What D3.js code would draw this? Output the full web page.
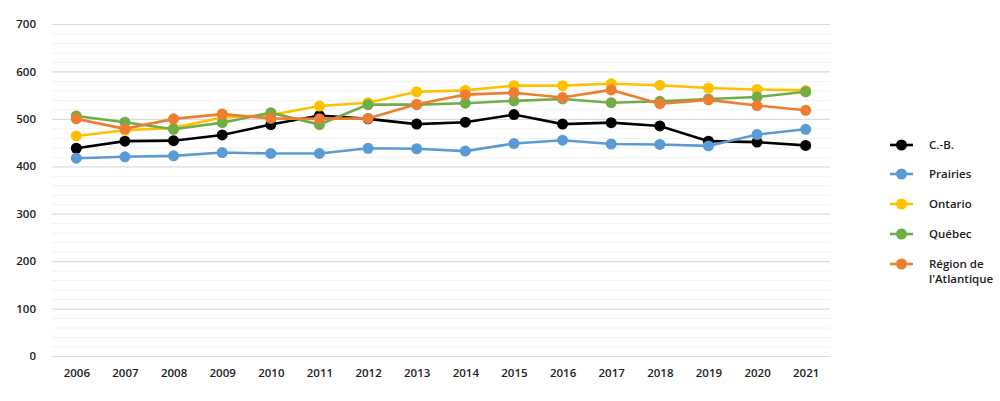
<!DOCTYPE html>
<html>
<head>
<meta charset="utf-8">
<script src="https://cdn.jsdelivr.net/npm/d3@7"></script>
<style>
	body { margin: 0; background: #fff; }
	text { font-family: "Open Sans", sans-serif; fill: #222; }
</style>
</head>
<body>
<div id="chart"></div>
<script>
const years = ['2006','2007','2008','2009','2010','2011','2012','2013','2014','2015','2016','2017','2018','2019','2020','2021'];
const yTicks = [0, 100, 200, 300, 400, 500, 600, 700];
const seriesNames = ['C.-B.', 'Prairies', 'Ontario', 'Québec', "Région de l'Atlantique"];
const seriesColors = ['#000000', '#5B9BD5', '#FFC000', '#70AD47', '#ED7D31'];
const cb = [438, 453, 454, 466, 488, 507, 500, 489, 493, 509, 489, 492, 485, 453, 451, 444];
const prairies = [417, 420, 422, 429, 427, 427, 438, 437, 432, 448, 455, 447, 446, 443, 467, 478];
const ontario = [464, 476, 481, 503, 508, 527, 534, 557, 560, 570, 570, 574, 571, 565, 562, 560];
const quebec = [506, 493, 478, 492, 513, 488, 530, 530, 533, 538, 542, 534, 537, 542, 546, 557];
const atlantique = [500, 479, 500, 510, 501, 500, 501, 531, 551, 555, 545, 561, 532, 540, 528, 518];

const seriesValues = [cb, prairies, ontario, quebec, atlantique];

const config = {
	width: 1000,
	height: 401,
	margin: {top: 24, right: 170, bottom: 45, left: 52}
};
const innerW = config.width - config.margin.left - config.margin.right;
const innerH = config.height - config.margin.top - config.margin.bottom;

const svg = d3.select('#chart').append('svg')
	.attr('width', config.width)
	.attr('height', config.height);

const g = svg.append('g')
	.attr('transform', `translate(${config.margin.left},${config.margin.top})`);

//Scales
const xScale = d3.scalePoint()
	.domain(years)
	.range([0, innerW])
	.padding(0.5);

const yScale = d3.scaleLinear()
	.domain([0, 700])
	.range([innerH, 0]);

//Minor gridlines every 20, major every 100
g.append('g')
	.selectAll('line')
	.data(d3.range(0, 701, 20).filter(v => v % 100 !== 0))
	.join('line')
	.attr('x1', 0)
	.attr('x2', innerW)
	.attr('y1', d => yScale(d) + 0.5)
	.attr('y2', d => yScale(d) + 0.5)
	.attr('stroke', '#f2f2f2')
	.attr('stroke-width', 1);

const yAxis = d3.axisLeft(yScale)
	.tickValues(yTicks)
	.tickSize(-innerW)
	.tickPadding(16);

const yAxisG = g.append('g')
	.attr('class', 'y-axis')
	.call(yAxis);
yAxisG.select('.domain').remove();
yAxisG.selectAll('.tick line').attr('stroke', '#dcdcdc').attr('stroke-width', 1.2);
yAxisG.selectAll('.tick text')
	.style('font-size', '11.5px')
	.style('font-weight', '600')
	.attr('fill', '#222');

const xAxis = d3.axisBottom(xScale)
	.tickSize(0)
	.tickPadding(13);

const xAxisG = g.append('g')
	.attr('class', 'x-axis')
	.attr('transform', `translate(0,${innerH})`)
	.call(xAxis);
xAxisG.select('.domain').remove();
xAxisG.selectAll('.tick text')
	.style('font-size', '11.5px')
	.style('font-weight', '600')
	.attr('fill', '#222');

//Lines and markers
const line = d3.line()
	.x((d, i) => xScale(years[i]))
	.y(d => yScale(d));

seriesValues.forEach((vals, k) => {
	const sg = g.append('g');
	sg.append('path')
		.datum(vals)
		.attr('fill', 'none')
		.attr('stroke', seriesColors[k])
		.attr('stroke-width', 2.6)
		.attr('d', line);
	sg.selectAll('circle')
		.data(vals)
		.join('circle')
		.attr('cx', (d, i) => xScale(years[i]))
		.attr('cy', d => yScale(d))
		.attr('r', 5.5)
		.attr('fill', seriesColors[k]);
});

//Legend
const legendRows = [145, 174, 204, 234, 264];
const legend = svg.append('g');
seriesNames.forEach((name, k) => {
	const row = legend.append('g')
		.attr('transform', `translate(890,${legendRows[k]})`);
	row.append('line')
		.attr('x1', 0)
		.attr('x2', 23)
		.attr('stroke', seriesColors[k])
		.attr('stroke-width', 2.6);
	row.append('circle')
		.attr('cx', 11.5)
		.attr('r', 5.5)
		.attr('fill', seriesColors[k]);
	const t = row.append('text')
		.attr('x', 39)
		.attr('y', 4)
		.style('font-size', '11.5px')
		.style('font-weight', '600');
	if (k === 4) {
		t.append('tspan').attr('x', 39).text('Région de');
		t.append('tspan').attr('x', 39).attr('dy', 15).text("l'Atlantique");
	} else {
		t.text(name);
	}
});
</script>
</body>
</html>
